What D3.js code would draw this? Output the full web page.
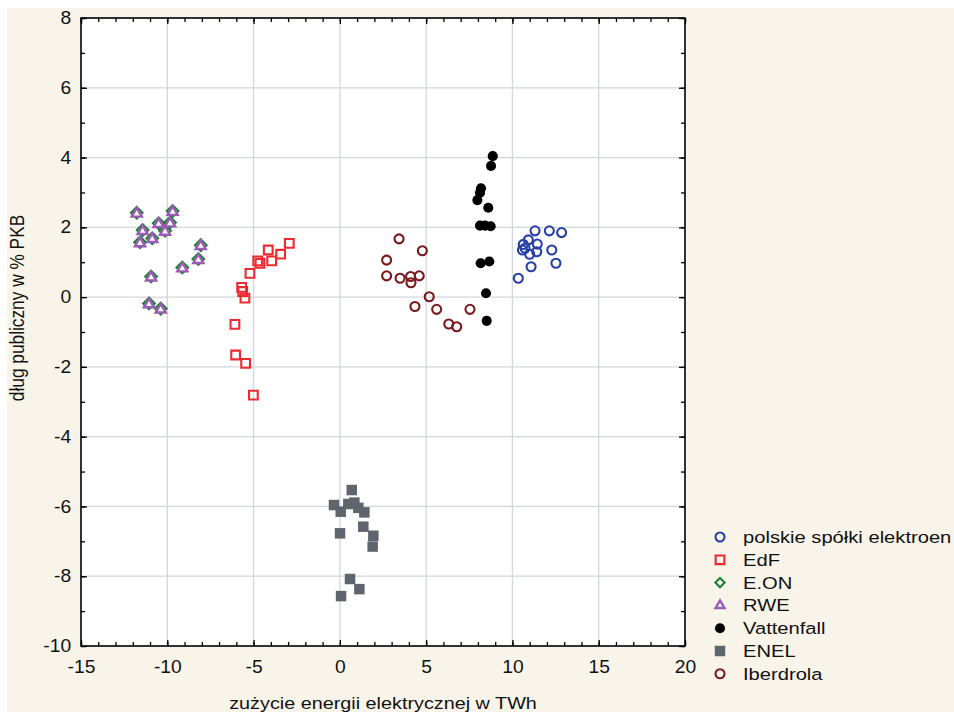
<!DOCTYPE html>
<html>
<head>
<meta charset="utf-8">
<script src="https://cdn.jsdelivr.net/npm/d3@7"></script>
<style>
  body { margin: 0; background: #fff; }
  svg text { font-family: "Liberation Sans", Arial, sans-serif; fill: #111; }
</style>
</head>
<body>
<svg id="chart" width="954" height="712"></svg>
<script>
// data
var polskieX = [11.31, 12.14, 12.85, 10.92, 10.63, 11.44, 10.73, 10.58, 11.41, 11.0, 12.28, 11.08, 12.52, 10.34];
var polskieY = [1.90, 1.90, 1.85, 1.64, 1.51, 1.52, 1.40, 1.35, 1.30, 1.23, 1.35, 0.87, 0.97, 0.54];

var edfX = [-2.93, -4.15, -3.43, -3.95, -4.76, -4.63, -5.21, -5.69, -5.63, -5.50, -6.08, -6.04, -5.46, -5.01];
var edfY = [1.54, 1.35, 1.23, 1.04, 1.04, 0.97, 0.68, 0.28, 0.16, -0.03, -0.78, -1.66, -1.90, -2.81];

var eonX = [-11.77, -9.69, -11.43, -10.50, -9.84, -10.13, -10.87, -11.58, -8.06, -8.20, -9.13, -10.94, -11.06, -10.38];
var eonY = [2.42, 2.47, 1.92, 2.12, 2.14, 1.90, 1.69, 1.57, 1.49, 1.09, 0.85, 0.59, -0.18, -0.33];

var rweX = [-11.77, -9.69, -11.43, -10.50, -9.84, -10.13, -10.87, -11.58, -8.06, -8.20, -9.13, -10.94, -11.06, -10.38];
var rweY = [2.42, 2.47, 1.92, 2.12, 2.14, 1.90, 1.69, 1.57, 1.49, 1.09, 0.85, 0.59, -0.18, -0.33];

var vattenfallX = [8.86, 8.76, 8.18, 8.12, 7.97, 8.60, 8.12, 8.41, 8.74, 8.16, 8.66, 8.47, 8.51];
var vattenfallY = [4.04, 3.76, 3.12, 2.99, 2.78, 2.56, 2.05, 2.05, 2.03, 0.97, 1.02, 0.11, -0.68];

var enelX = [0.69, -0.34, 0.05, 0.49, 0.84, 1.07, 1.42, 1.36, 1.94, 1.90, 0.01, 0.59, 1.13, 0.07];
var enelY = [-5.53, -5.96, -6.15, -5.93, -5.89, -6.04, -6.17, -6.58, -6.84, -7.15, -6.77, -8.08, -8.37, -8.57];

var iberdrolaX = [3.43, 4.78, 2.71, 2.71, 3.49, 4.10, 4.12, 4.60, 5.18, 4.35, 5.61, 7.54, 6.31, 6.77];
var iberdrolaY = [1.67, 1.33, 1.06, 0.61, 0.54, 0.59, 0.41, 0.61, 0.01, -0.27, -0.35, -0.35, -0.77, -0.85];

var seriesNames = ["polskie spółki elektroen", "EdF", "E.ON", "RWE", "Vattenfall", "ENEL", "Iberdrola"];
var xTicks = [-15, -10, -5, 0, 5, 10, 15, 20];
var yTicks = [-10, -8, -6, -4, -2, 0, 2, 4, 6, 8];

var series = [
  { name: seriesNames[0], xs: polskieX, ys: polskieY, shape: "circle", color: "#2741a6", fill: false },
  { name: seriesNames[1], xs: edfX, ys: edfY, shape: "square", color: "#ee2a30", fill: false },
  { name: seriesNames[2], xs: eonX, ys: eonY, shape: "diamond", color: "#1d7f35", fill: false },
  { name: seriesNames[3], xs: rweX, ys: rweY, shape: "triangle", color: "#9a5cb4", fill: false },
  { name: seriesNames[4], xs: vattenfallX, ys: vattenfallY, shape: "circle", color: "#000", fill: true },
  { name: seriesNames[5], xs: enelX, ys: enelY, shape: "square", color: "#5e656d", fill: true },
  { name: seriesNames[6], xs: iberdrolaX, ys: iberdrolaY, shape: "circle", color: "#7b1a1e", fill: false }
];

var svg = d3.select("#chart");
var pl = 81, pt = 18, pr = 685, pb = 646;
var stretch = 1.2; // text in the picture is a bit wider than plain Arial

svg.append("rect").attr("x", 7).attr("y", 8).attr("width", 947).attr("height", 704).attr("fill", "#f8f4ea");
svg.append("rect").attr("x", pl).attr("y", pt).attr("width", pr - pl).attr("height", pb - pt).attr("fill", "#fff");

var x = d3.scaleLinear().domain([-15, 20]).range([pl, pr]);
var y = d3.scaleLinear().domain([-10, 8]).range([pb, pt]);

// grid
var grid = svg.append("g");
grid.selectAll(".gx").data(xTicks.slice(1, -1)).enter().append("line")
    .attr("x1", function (d) { return x(d); }).attr("x2", function (d) { return x(d); })
    .attr("y1", pt).attr("y2", pb)
    .attr("stroke", "#d3d7db").attr("stroke-width", 1.3);
grid.selectAll(".gy").data(yTicks.slice(1, -1)).enter().append("line")
    .attr("y1", function (d) { return y(d); }).attr("y2", function (d) { return y(d); })
    .attr("x1", pl).attr("x2", pr)
    .attr("stroke", "#d3d7db").attr("stroke-width", 1.3);

// axes (ticks point inward)
function styleAxis(g) {
  g.select(".domain").remove();
  g.selectAll("line").attr("stroke", "#000").attr("stroke-width", 1.3);
  g.selectAll("text").attr("font-size", "17.5px").attr("fill", "#111")
    .attr("transform", "scale(1.1,1)");
}
var fmt = function (d) { return String(d); };
var minorX = d3.range(-15, 21, 1), minorY = d3.range(-10, 9, 1);

svg.append("g").attr("transform", "translate(0," + pb + ")")
  .call(d3.axisBottom(x).tickValues(minorX).tickSize(-4).tickFormat(""))
  .call(styleAxis);
svg.append("g").attr("transform", "translate(0," + pb + ")")
  .call(d3.axisBottom(x).tickValues(xTicks).tickSize(-6).tickPadding(15).tickFormat(fmt))
  .call(styleAxis);
svg.append("g").attr("transform", "translate(0," + pt + ")")
  .call(d3.axisTop(x).tickValues(minorX).tickSize(-4).tickFormat(""))
  .call(styleAxis);
svg.append("g").attr("transform", "translate(0," + pt + ")")
  .call(d3.axisTop(x).tickValues(xTicks).tickSize(-6).tickFormat(""))
  .call(styleAxis);
svg.append("g").attr("transform", "translate(" + pl + ",0)")
  .call(d3.axisLeft(y).tickValues(minorY).tickSize(-4).tickFormat(""))
  .call(styleAxis);
svg.append("g").attr("transform", "translate(" + pl + ",0)")
  .call(d3.axisLeft(y).tickValues(yTicks).tickSize(-6).tickPadding(9).tickFormat(fmt))
  .call(styleAxis);
svg.append("g").attr("transform", "translate(" + pr + ",0)")
  .call(d3.axisRight(y).tickValues(minorY).tickSize(-4).tickFormat(""))
  .call(styleAxis);
svg.append("g").attr("transform", "translate(" + pr + ",0)")
  .call(d3.axisRight(y).tickValues(yTicks).tickSize(-6).tickFormat(""))
  .call(styleAxis);

svg.append("rect").attr("x", pl).attr("y", pt).attr("width", pr - pl).attr("height", pb - pt)
  .attr("fill", "none").attr("stroke", "#000").attr("stroke-width", 1.6);

// markers
var symbols = {
  circle: d3.symbolCircle, square: d3.symbolSquare,
  diamond: d3.symbolDiamond2, triangle: d3.symbolTriangle
};
function markerPath(s, legendSize) {
  var size;
  if (s.shape === "circle") size = s.fill ? 80 : 64;
  else if (s.shape === "square") size = s.fill ? 110 : 76;
  else if (s.shape === "diamond") size = legendSize ? 55 : 85;
  else size = legendSize ? 34 : 44;
  return d3.symbol().type(symbols[s.shape]).size(size)();
}
function styleMarker(sel, s, legendSize) {
  sel.attr("d", markerPath(s, legendSize))
    .attr("fill", s.fill ? s.color : (s.shape === "triangle" ? "#fff" : "none"))
    .attr("stroke", s.fill ? "none" : s.color)
    .attr("stroke-width", s.shape === "triangle" ? 2.4 : 2.1);
}

series.forEach(function (s) {
  var pts = s.xs.map(function (v, i) { return [v, s.ys[i]]; });
  svg.append("g").selectAll("path").data(pts).enter().append("path")
    .attr("transform", function (d) { return "translate(" + x(d[0]) + "," + (y(d[1]) + (s.shape === "triangle" ? 1 : 0)) + ")"; })
    .call(styleMarker, s, false);
});

// legend
var legend = svg.append("g");
series.forEach(function (s, i) {
  var ly = 537 + i * 22.8;
  legend.append("path").attr("transform", "translate(720," + ly + ")").call(styleMarker, s, true);
  legend.append("text").attr("transform", "translate(743," + (ly + 6) + ") scale(1.2,1)")
    .attr("font-size", "16.8px").text(s.name);
});

// axis titles
svg.append("text").attr("transform", "translate(" + ((pl + pr) / 2) + ",709) scale(" + stretch + ",1)")
  .attr("text-anchor", "middle").attr("font-size", "16.5px").text("zużycie energii elektrycznej w TWh");
svg.append("text").attr("transform", "translate(24,308) rotate(-90) scale(1,1.15)").attr("text-anchor", "middle")
  .attr("font-size", "17.3px").text("dług publiczny w % PKB");
</script>
</body>
</html>
